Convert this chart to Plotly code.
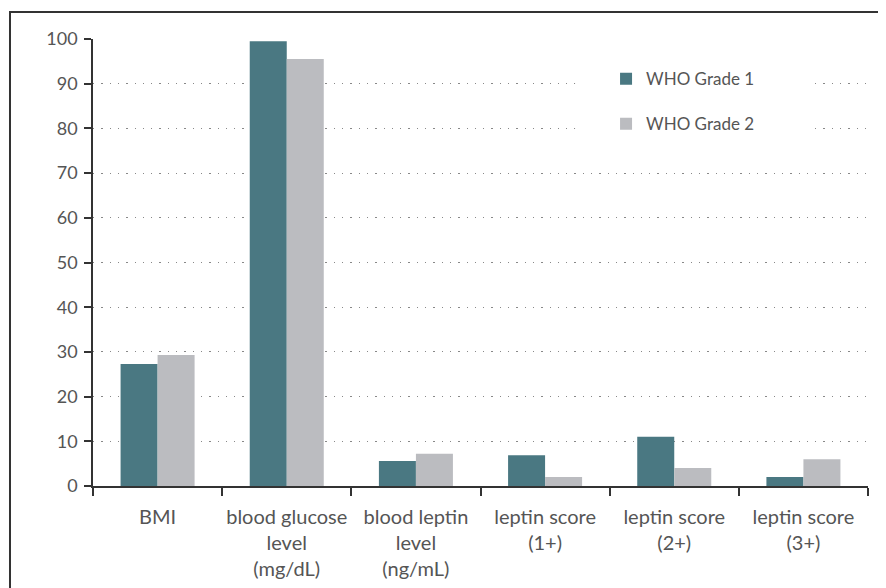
import plotly.graph_objects as go

categories = ["BMI", "blood glucose<br>level<br>(mg/dL)", "blood leptin<br>level<br>(ng/mL)",
              "leptin score<br>(1+)", "leptin score<br>(2+)", "leptin score<br>(3+)"]
grade1 = [27.3, 99.5, 5.6, 6.9, 11.0, 2.0]
grade2 = [29.3, 95.5, 7.2, 2.0, 4.0, 6.0]
y_ticks = [0, 10, 20, 30, 40, 50, 60, 70, 80, 90, 100]

FONT = "Lato"
TXT = "#555555"

fig = go.Figure()
fig.add_trace(go.Bar(x=categories, y=grade1, name="WHO Grade 1", marker_color="#4a7882",
                     marker_line_width=0, legendgroup="g1"))
fig.add_trace(go.Bar(x=categories, y=grade2, name="WHO Grade 2", marker_color="#bbbcc0",
                     marker_line_width=0, legendgroup="g2"))

fig.update_layout(
    width=886, height=588,
    margin=dict(l=85, r=26, t=31, b=110),
    paper_bgcolor="white", plot_bgcolor="white",
    barmode="group", bargap=0.427, bargroupgap=0,
    font=dict(family=FONT, size=18, color=TXT),
    showlegend=True,
    legend=dict(x=0.662, y=0.9505, xanchor="left", yanchor="top", bgcolor="rgba(0,0,0,0)",
                font=dict(size=17, color=TXT), tracegroupgap=20, traceorder="grouped"),
)
fig.update_xaxes(
    type="category", showline=True, linecolor="#333333", linewidth=1.5,
    ticks="outside", tickson="boundaries", ticklen=8, tickcolor="#333333", tickwidth=1.5,
    showgrid=False, tickfont=dict(size=20, color=TXT), tickangle=0, automargin=False,
    ticklabelstandoff=12,
)
fig.update_yaxes(
    range=[0, 100], tickvals=y_ticks, showline=True, linecolor="#333333", linewidth=1.5,
    ticks="outside", ticklen=7, tickcolor="#333333", tickwidth=1.5,
    showgrid=True, gridcolor="#888888", gridwidth=1, griddash="1.3px,7px",
    zeroline=False, tickfont=dict(size=18, color=TXT), automargin=False,
    ticklabelstandoff=3,
)
# white patch behind legend (hides grid dots)
fig.add_shape(type="rect", xref="paper", yref="paper", x0=0.622, x1=0.9226, y0=0.7517, y1=0.964,
              fillcolor="white", line_width=0, layer="above")
# outer frame
fig.add_shape(type="rect", xref="paper", yref="paper", x0=-0.1071, x1=1.2, y0=-0.5, y1=1.0604,
              fillcolor="rgba(0,0,0,0)", line=dict(color="#333333", width=2), layer="above")

fig.write_html("out.html")
